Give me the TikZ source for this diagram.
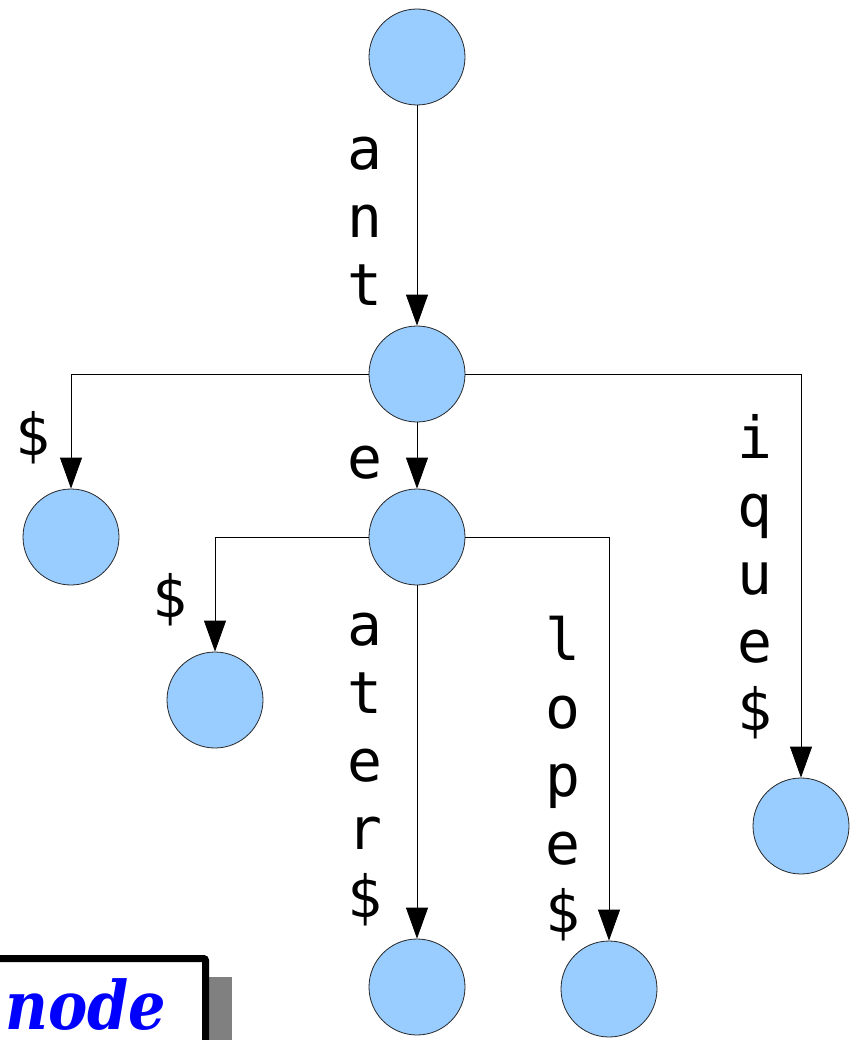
\documentclass[tikz,border=0pt]{standalone}
\usepackage{fontspec}
\usetikzlibrary{arrows.meta}
\newfontfamily\labfont{DejaVu Sans Mono}
\newfontfamily\boxfont[FakeStretch=0.88]{DejaVu Serif}
\newcommand\stk[1]{\begin{tabular}[t]{@{}c@{}}#1\end{tabular}}
\definecolor{nodeblue}{HTML}{99CCFF}
\begin{document}
\begin{tikzpicture}[x=1pt,y=-1pt,
  tnode/.style={circle,draw=black!85,line width=0.8pt,fill=nodeblue,minimum size=96pt,inner sep=0pt},
  edge/.style={line width=0.8pt,black,-{Triangle[length=31pt,width=22pt]}},
  lab/.style={font=\labfont\fontsize{58}{68}\selectfont,inner sep=0pt,anchor=base}]
\useasboundingbox (0,0) rectangle (849,1040);
% nodes
\node[tnode] (root) at (417,57) {};
\node[tnode] (n1) at (417,374) {};
\node[tnode] (d1) at (71,537) {};
\node[tnode] (n2) at (417,537) {};
\node[tnode] (d2) at (215,700) {};
\node[tnode] (ater) at (417,987) {};
\node[tnode] (lope) at (609,989) {};
\node[tnode] (ique) at (801,826) {};
% edges
\draw[edge] (root) -- (n1);
\draw[edge] (n1.west) -| (d1.north);
\draw[edge] (n1.east) -| (ique.north);
\draw[edge] (n1) -- (n2);
\draw[edge] (n2.west) -| (d2.north);
\draw[edge] (n2) -- (ater);
\draw[edge] (n2.east) -| (lope.north);
% labels
\node[lab] (lant) at (365,170) {\stk{a\\n\\t}};
\node[lab] (ld1) at (33,455) {\stk{\$}};
\node[lab] (le) at (365,478) {\stk{e}};
\node[lab] (ld2) at (170,617) {\stk{\$}};
\node[lab] (later) at (365,645) {\stk{a\\t\\e\\r\\\$}};
\node[lab] (llope) at (563,660) {\stk{l\\o\\p\\e\\\$}};
\node[lab] (lique) at (755,458) {\stk{i\\q\\u\\e\\\$}};
% legend box
\fill[gray] (30,977) rectangle (232,1070);
\draw[line width=7pt,fill=white,rounded corners=2pt] (-20,958.5) rectangle (205.5,1070);
\node[font=\boxfont\bfseries\itshape\fontsize{67}{70}\selectfont,text=blue,anchor=base west,inner sep=0pt] (legend) at (5,1029) {node};
\end{tikzpicture}
\end{document}
